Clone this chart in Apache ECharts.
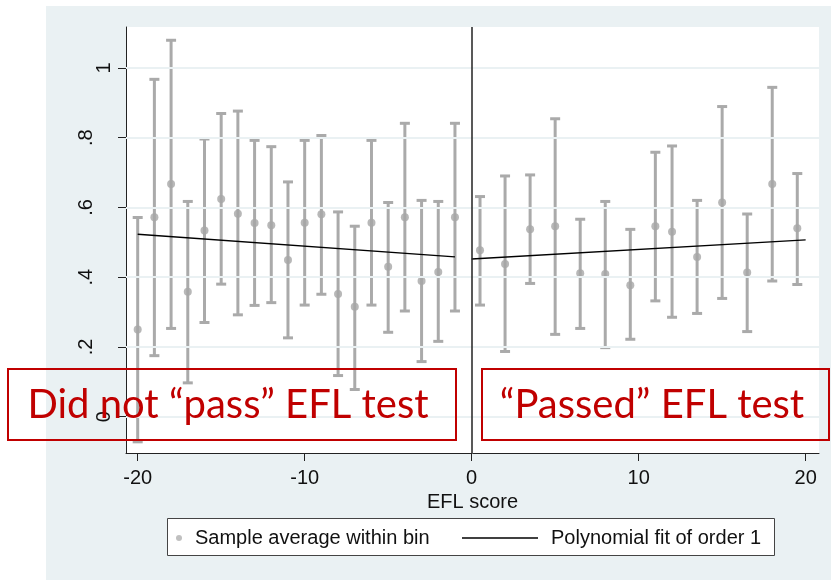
<!DOCTYPE html>
<html>
<head>
<meta charset="utf-8">
<script src="https://cdn.jsdelivr.net/npm/echarts@6/dist/echarts.min.js"></script>
<style>
  html, body { margin: 0; padding: 0; background: #fff; }
  #main { width: 831px; height: 580px; }
</style>
</head>
<body>
<div id="main"></div>
<script>
// bin centres (EFL score) and the bin averages with their confidence bounds
const binX = [-20, -19, -18, -17, -16, -15, -14, -13, -12, -11, -10, -9, -8, -7, -6, -5, -4, -3, -2, -1,
  0.5, 2, 3.5, 5, 6.5, 8, 9.5, 11, 12, 13.5, 15, 16.5, 18, 19.5]
const binMean = [0.25, 0.572, 0.667, 0.358, 0.534, 0.624, 0.582, 0.555, 0.549, 0.449,
  0.556, 0.58, 0.352, 0.315, 0.556, 0.43, 0.572, 0.389, 0.415, 0.572,
  0.477, 0.438, 0.537, 0.546, 0.411, 0.409, 0.377, 0.546, 0.53, 0.458, 0.614, 0.413, 0.667, 0.54]
const ciLow = [-0.072, 0.175, 0.253, 0.097, 0.27, 0.38, 0.292, 0.319, 0.327, 0.226,
  0.32, 0.351, 0.118, 0.078, 0.32, 0.242, 0.303, 0.158, 0.216, 0.303,
  0.32, 0.187, 0.382, 0.236, 0.253, 0.198, 0.222, 0.332, 0.285, 0.296, 0.339, 0.244, 0.389, 0.379]
const ciHigh = [0.571, 0.967, 1.079, 0.617, 0.796, 0.869, 0.876, 0.792, 0.774, 0.673,
  0.792, 0.806, 0.587, 0.546, 0.792, 0.614, 0.841, 0.62, 0.617, 0.841,
  0.631, 0.69, 0.693, 0.854, 0.566, 0.617, 0.537, 0.758, 0.776, 0.62, 0.889, 0.581, 0.944, 0.697]

// linear fits on each side of the cutoff
const fitLeftX = [-20, -1]
const fitLeftY = [0.523, 0.458]
const fitRightX = [0, 20]
const fitRightY = [0.452, 0.507]

const xTicks = [-20, -10, 0, 10, 20]
const yTicks = [0, 0.2, 0.4, 0.6, 0.8, 1]

const grayBar = '#aaaaaa'
const red = '#c00000'
const txtFont = 'Liberation Sans, Arial, sans-serif'

let myChart = echarts.init(document.getElementById('main'))

function errorBar (params, api) {
  let x = api.value(0)
  let lo = api.coord([x, api.value(1)])
  let hi = api.coord([x, api.value(2)])
  let hw = 5
  let st = { stroke: grayBar, lineWidth: 3 }
  return {
    type: 'group',
    children: [
      { type: 'line', shape: { x1: lo[0], y1: lo[1], x2: hi[0], y2: hi[1] }, style: st },
      { type: 'line', shape: { x1: hi[0] - hw, y1: hi[1], x2: hi[0] + hw, y2: hi[1] }, style: st },
      { type: 'line', shape: { x1: lo[0] - hw, y1: lo[1], x2: lo[0] + hw, y2: lo[1] }, style: st }
    ]
  }
}

myChart.setOption({
  animation: false,
  graphic: {
    elements: [
      // outer light background
      { type: 'rect', z: -10, shape: { x: 46, y: 6, width: 785, height: 574 }, style: { fill: '#eaf1f3' } },
      // legend frame
      { type: 'rect', z: 1, shape: { x: 167.5, y: 518.5, width: 607, height: 37 }, style: { fill: '#fff', stroke: '#444', lineWidth: 1 } },
      // red annotation boxes
      { type: 'rect', z: 100, shape: { x: 8, y: 369, width: 448, height: 71 }, style: { fill: 'none', stroke: red, lineWidth: 2 } },
      { type: 'rect', z: 100, shape: { x: 482, y: 369, width: 347, height: 71 }, style: { fill: 'none', stroke: red, lineWidth: 2 } },
      { type: 'text', z: 101, x: 228, y: 405, style: { text: 'Did not \u201cpass\u201d EFL test', fill: red, font: '40px Lato', align: 'center', verticalAlign: 'middle', textAlign: 'center', textVerticalAlign: 'middle' } },
      { type: 'text', z: 101, x: 652, y: 405, style: { text: '\u201cPassed\u201d EFL test', fill: red, font: '40px Lato', align: 'center', verticalAlign: 'middle', textAlign: 'center', textVerticalAlign: 'middle' } }
    ]
  },
  legend: [
    {
      data: [{ name: 'Sample average within bin', icon: 'circle' }],
      selectedMode: false,
      left: 176,
      top: 528,
      padding: 0,
      itemWidth: 22,
      itemHeight: 6,
      itemStyle: { color: '#b0b0b0' },
      textStyle: { fontSize: 20, color: '#111', fontFamily: txtFont }
    },
    {
      data: [{ name: 'Polynomial fit of order 1', icon: 'rect' }],
      selectedMode: false,
      left: 462,
      top: 528,
      padding: 0,
      itemWidth: 76,
      itemHeight: 1.3,
      symbolKeepAspect: false,
      textStyle: { fontSize: 20, color: '#111', fontFamily: txtFont, padding: [0, 0, 0, 8] }
    }
  ],
  grid: {
    left: 126,
    top: 27,
    width: 693,
    height: 426,
    show: true,
    backgroundColor: '#fff',
    borderWidth: 0
  },
  xAxis: {
    type: 'value',
    min: -20.7,
    max: 20.8,
    name: 'EFL score',
    nameLocation: 'middle',
    nameGap: 29,
    nameTextStyle: { fontSize: 20, color: '#111', fontFamily: txtFont },
    axisLine: { onZero: false, lineStyle: { color: '#222', width: 1 } },
    axisTick: { length: 8, customValues: xTicks, lineStyle: { color: '#222' } },
    axisLabel: { customValues: xTicks, margin: 15, fontSize: 20, color: '#111', fontFamily: txtFont },
    splitLine: { show: false }
  },
  yAxis: {
    type: 'value',
    min: -0.104,
    max: 1.117,
    axisLine: { show: true, onZero: false, lineStyle: { color: '#222', width: 1 } },
    axisTick: { show: true, length: 8, customValues: yTicks, lineStyle: { color: '#222' } },
    axisLabel: {
      customValues: yTicks,
      rotate: 90,
      margin: 12,
      fontSize: 20,
      color: '#111',
      fontFamily: txtFont,
      formatter: (v) => {
        // whole numbers sit closer to the axis than the decimals
        if (v === 0 || v === 1) return '{w|' + v + '}'
        return '{d|' + String(Math.round(v * 10) / 10).replace('0.', '.') + '}'
      },
      rich: {
        w: { fontSize: 20, fontFamily: txtFont, color: '#111' },
        d: { fontSize: 20, fontFamily: txtFont, color: '#111', padding: [0, 0, 18, 0] }
      }
    },
    splitLine: { show: false }
  },
  series: [
    {
      // horizontal grid lines at the y ticks
      type: 'line',
      data: [],
      z: 1,
      silent: true,
      markLine: {
        silent: true,
        symbol: ['none', 'none'],
        label: { show: false },
        lineStyle: { color: '#eaf1f3', width: 2, type: 'solid' },
        data: yTicks.map(v => ({ yAxis: v }))
      }
    },
    {
      type: 'custom',
      renderItem: errorBar,
      z: 2,
      encode: { x: 0, y: [1, 2] },
      data: binX.map((x, i) => [x, ciLow[i], ciHigh[i]])
    },
    {
      name: 'Sample average within bin',
      type: 'scatter',
      z: 3,
      symbolSize: 8,
      itemStyle: { color: '#a6a6a6' },
      data: binX.map((x, i) => [x, binMean[i]])
    },
    {
      name: 'Polynomial fit of order 1',
      type: 'line',
      z: 4,
      symbol: 'none',
      lineStyle: { color: '#000', width: 1.4 },
      itemStyle: { color: '#000' },
      data: fitLeftX.map((x, i) => [x, fitLeftY[i]]),
      markLine: {
        silent: true,
        symbol: ['none', 'none'],
        label: { show: false },
        lineStyle: { color: '#222', width: 1.5, type: 'solid' },
        data: [{ xAxis: 0 }]
      }
    },
    {
      name: 'Polynomial fit of order 1',
      type: 'line',
      z: 4,
      symbol: 'none',
      lineStyle: { color: '#000', width: 1.4 },
      itemStyle: { color: '#000' },
      data: fitRightX.map((x, i) => [x, fitRightY[i]])
    }
  ]
})
</script>
</body>
</html>
